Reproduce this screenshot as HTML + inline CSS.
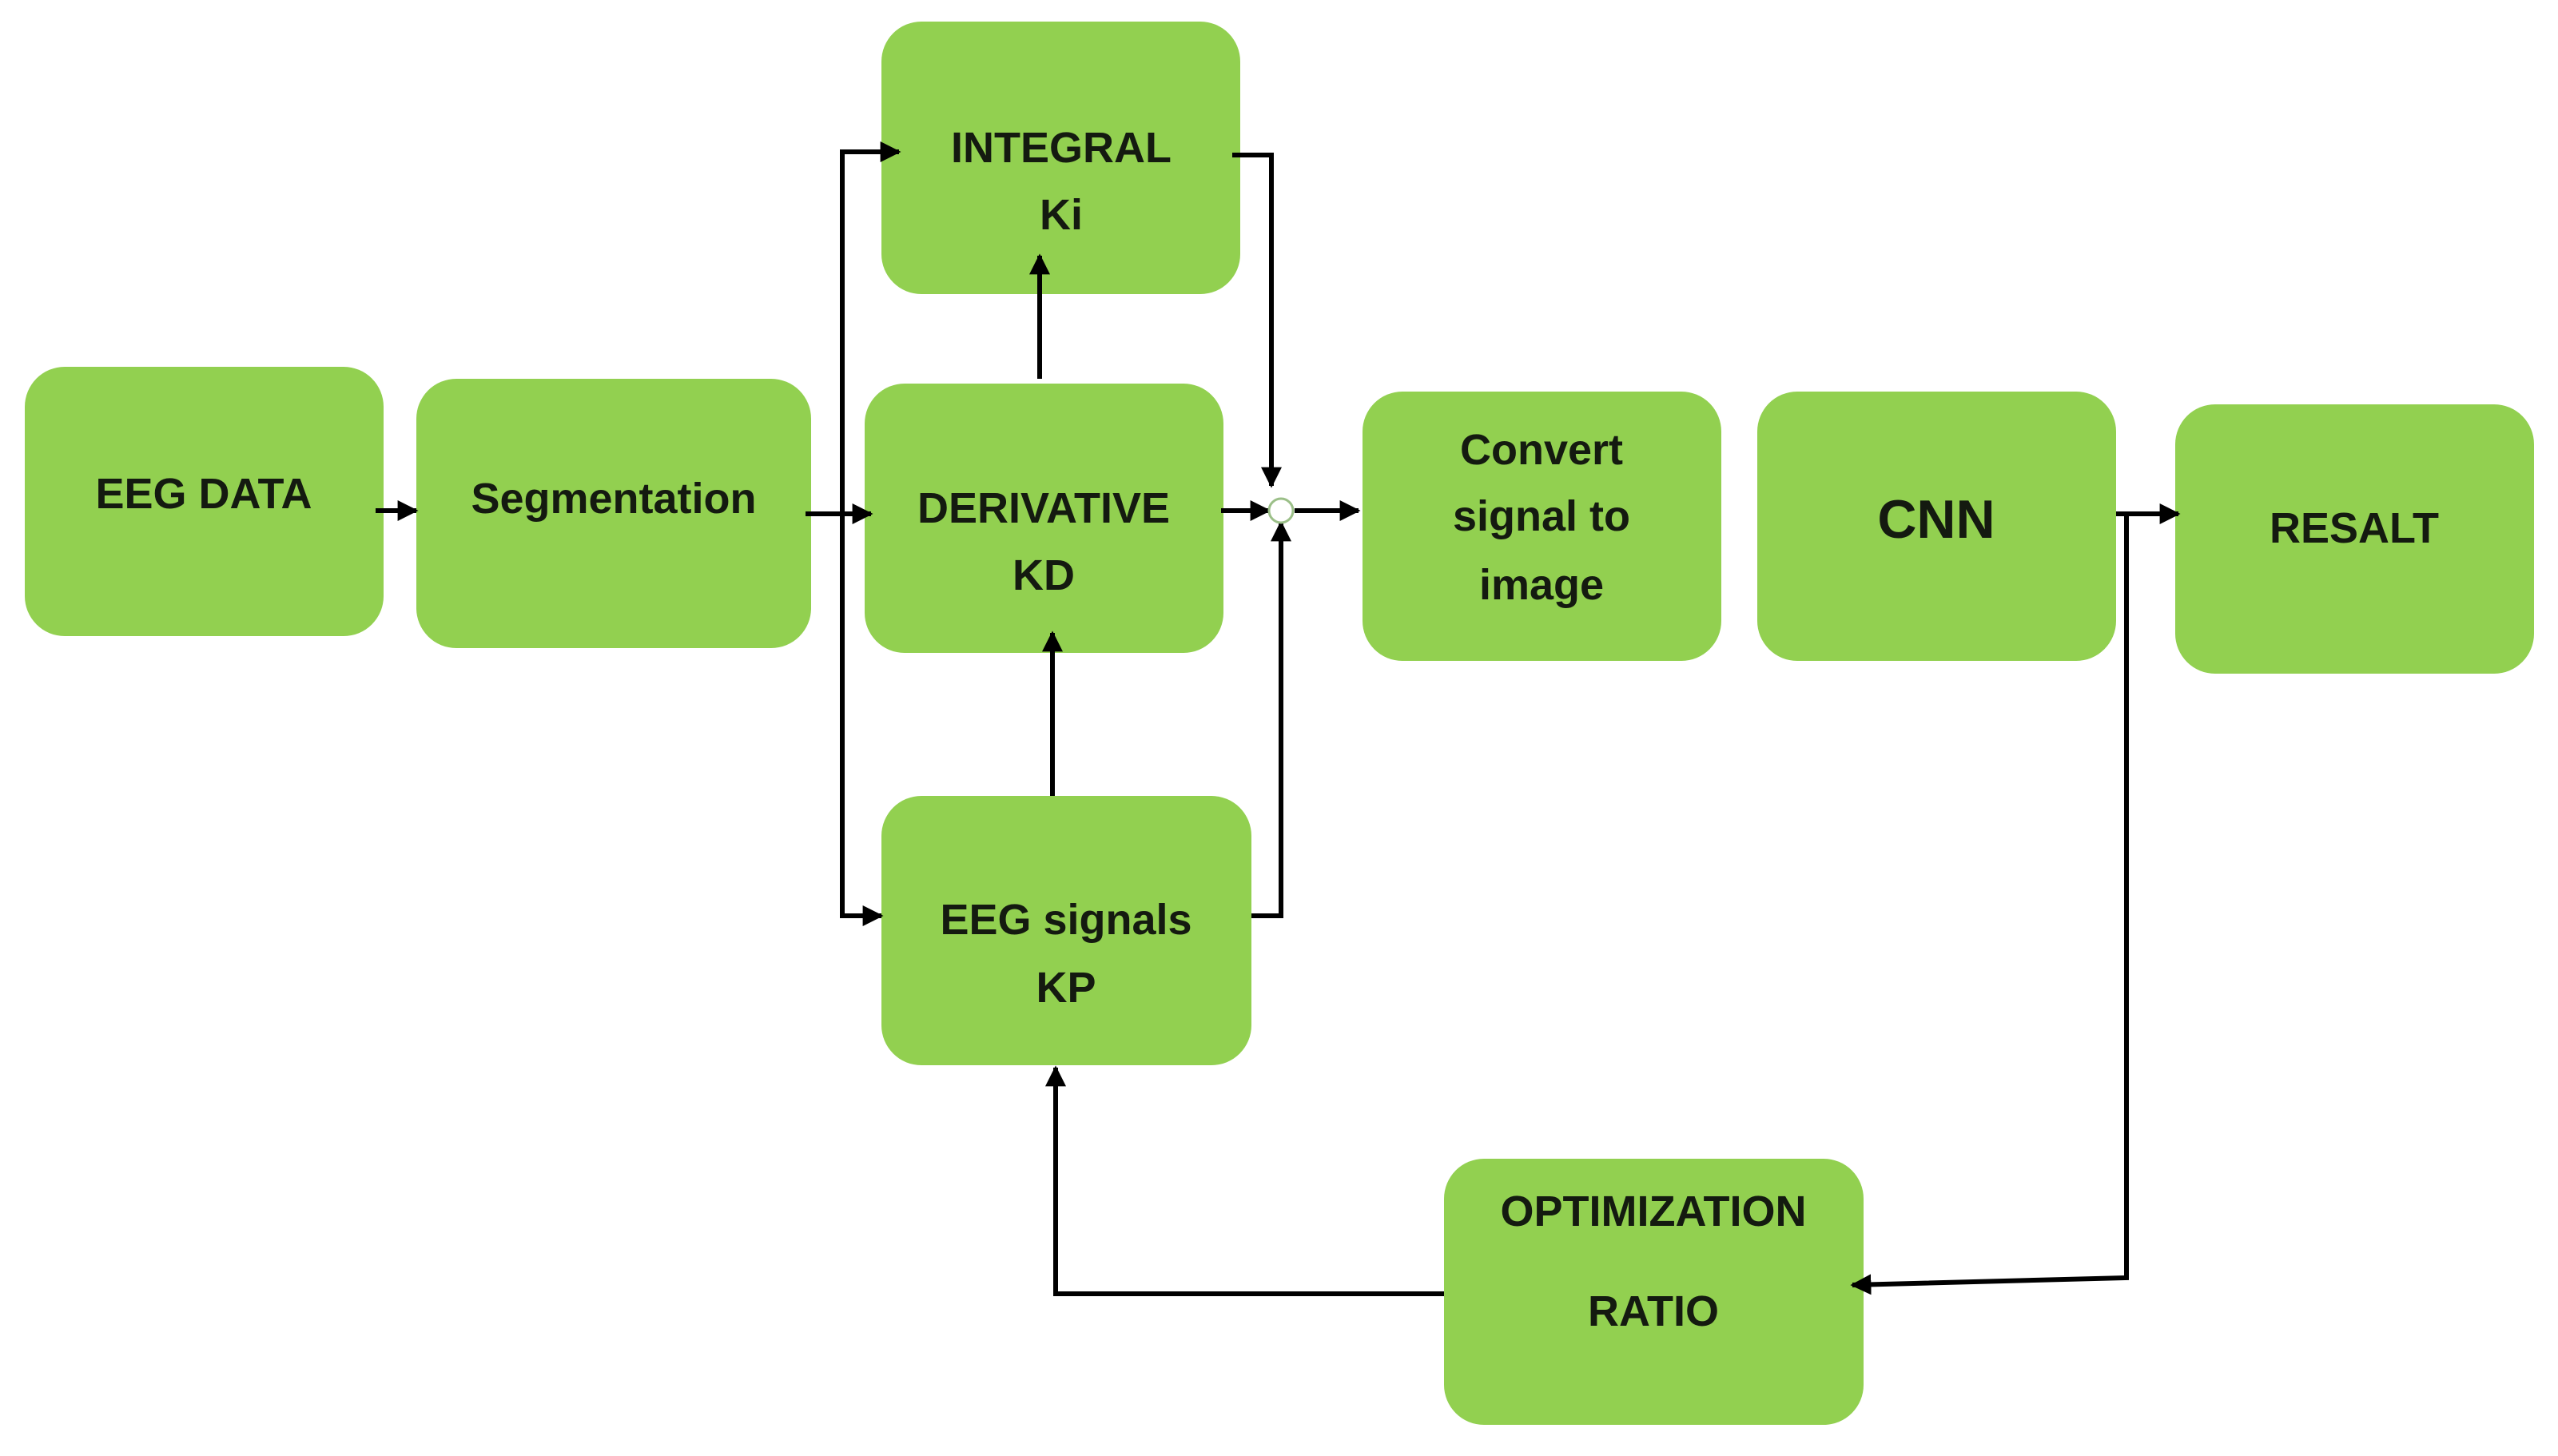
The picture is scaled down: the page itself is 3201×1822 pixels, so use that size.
<!DOCTYPE html>
<html><head><style>
html,body{margin:0;padding:0;background:#fff;}
svg{display:block;}
text{font-family:"Liberation Sans",sans-serif;font-weight:bold;fill:#141a10;text-anchor:middle;}
</style></head><body>
<svg width="3201" height="1822" viewBox="0 0 3201 1822" xmlns="http://www.w3.org/2000/svg">
<defs>
<marker id="a" markerWidth="8" markerHeight="8" refX="7" refY="4" orient="auto" markerUnits="userSpaceOnUse" viewBox="0 0 8 8">
</marker>
<marker id="ar" viewBox="0 0 10 10" refX="9" refY="5" markerWidth="26" markerHeight="26" markerUnits="userSpaceOnUse" orient="auto"><path d="M0,0 L10,5 L0,10 z" fill="#000"/></marker>
</defs>
<g fill="#92d050">
<rect x="31" y="459" width="449" height="337" rx="50"/>
<rect x="521" y="474" width="494" height="337" rx="50"/>
<rect x="1103" y="27" width="449" height="341" rx="50"/>
<rect x="1082" y="480" width="449" height="337" rx="50"/>
<rect x="1103" y="996" width="463" height="337" rx="50"/>
<rect x="1705" y="490" width="449" height="337" rx="50"/>
<rect x="2199" y="490" width="449" height="337" rx="50"/>
<rect x="2722" y="506" width="449" height="337" rx="50"/>
<rect x="1807" y="1450" width="525" height="333" rx="50"/>
</g>
<g font-size="54">
<text x="255" y="636">EEG DATA</text>
<text x="768" y="642">Segmentation</text>
<text x="1328" y="203">INTEGRAL</text>
<text x="1328" y="287">Ki</text>
<text x="1306" y="654">DERIVATIVE</text>
<text x="1306" y="738">KD</text>
<text x="1334" y="1169">EEG signals</text>
<text x="1334" y="1254">KP</text>
<text x="1929" y="581">Convert</text>
<text x="1929" y="664">signal to</text>
<text x="1929" y="750">image</text>
<text x="2423" y="673" font-size="68">CNN</text>
<text x="2946" y="679">RESALT</text>
<text x="2069" y="1534">OPTIMIZATION</text>
<text x="2069" y="1659">RATIO</text>
</g>
<g stroke="#000" stroke-width="6" fill="none">
<line x1="470" y1="639" x2="521" y2="639" marker-end="url(#ar)"/>
<line x1="1008" y1="643" x2="1090" y2="643" marker-end="url(#ar)"/>
<polyline points="1125,190 1054,190 1054,1146 1103,1146" marker-end="url(#ar)"/>
<line x1="1054" y1="190" x2="1125" y2="190" marker-end="url(#ar)"/>
<line x1="1301" y1="474" x2="1301" y2="320" marker-end="url(#ar)"/>
<line x1="1317" y1="996" x2="1317" y2="792" marker-end="url(#ar)"/>
<polyline points="1542,194 1591,194 1591,608" marker-end="url(#ar)"/>
<line x1="1528" y1="639" x2="1588" y2="639" marker-end="url(#ar)"/>
<line x1="1620" y1="639" x2="1700" y2="639" marker-end="url(#ar)"/>
<polyline points="1566,1146 1603,1146 1603,654" marker-end="url(#ar)"/>
<line x1="2648" y1="643" x2="2726" y2="643" marker-end="url(#ar)"/>
<polyline points="2661,643 2661,1599 2318,1608" marker-end="url(#ar)"/>
<polyline points="1807,1619 1321,1619 1321,1336" marker-end="url(#ar)"/>
</g>
<circle cx="1603" cy="639" r="15" fill="#fff" stroke="#9bbf88" stroke-width="3"/>
</svg>
</body></html>
